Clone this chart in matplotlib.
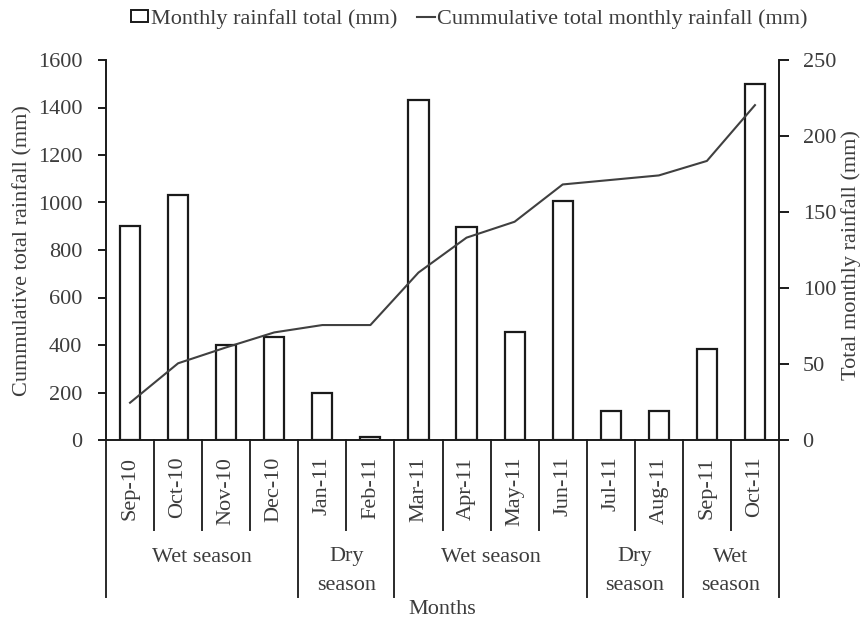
import matplotlib
matplotlib.use("Agg")
import matplotlib.pyplot as plt
from matplotlib.patches import Patch
from matplotlib.lines import Line2D
import matplotlib.transforms as mtransforms

# Monthly data
months = ["Sep-10", "Oct-10", "Nov-10", "Dec-10", "Jan-11", "Feb-11", "Mar-11",
          "Apr-11", "May-11", "Jun-11", "Jul-11", "Aug-11", "Sep-11", "Oct-11"]
monthly_rain = [141, 161, 62.5, 67.5, 31, 2, 224, 140, 71, 157.5, 19, 19, 60, 234]
cumulative_rain = [157, 323, 390, 453, 484, 484, 705, 852, 919, 1076, 1095, 1114, 1175, 1410]

# Season groups: label and number of months covered
season_labels = ["Wet season", "Dry\nseason", "Wet season", "Dry\nseason", "Wet\nseason"]
season_spans = [4, 2, 4, 2, 2]

left_ticks = [0, 200, 400, 600, 800, 1000, 1200, 1400, 1600]
right_ticks = [0, 50, 100, 150, 200, 250]

TXT = "#3c3c3c"
FS = 16
plt.rcParams["font.family"] = ["Liberation Serif", "DejaVu Serif"]
plt.rcParams["text.color"] = TXT

W, H = 865, 621
fig = plt.figure(figsize=(W / 100, H / 100), dpi=100)
ax = fig.add_axes([106 / W, 1 - 440 / H, (779 - 106) / W, 380 / H])
ax2 = ax.twinx()

x = list(range(len(months)))

# Cumulative line on the left axis
ax.plot(x, cumulative_rain, color="#404040", lw=1.5, zorder=3)
ax.set_ylim(0, 1600)
ax.set_yticks(left_ticks)
ax.set_xlim(-0.5, len(months) - 0.5)

# Monthly bars on the right axis
ax2.bar(x, monthly_rain, width=0.42, facecolor="white", edgecolor="#1a1a1a",
        linewidth=1.6, zorder=2)
ax2.set_ylim(0, 250)
ax2.set_yticks(right_ticks)
ax.set_zorder(ax2.get_zorder() + 1)
ax.patch.set_visible(False)

for a in (ax, ax2):
    a.spines["top"].set_visible(False)
    for s in ("left", "right", "bottom"):
        a.spines[s].set_linewidth(1.4)
        a.spines[s].set_color("#1a1a1a")
ax2.spines["left"].set_visible(False)
ax2.spines["bottom"].set_visible(False)
ax.spines["right"].set_visible(False)

ax.tick_params(axis="y", direction="out", length=6, width=1.4, pad=11,
               labelsize=FS, labelcolor=TXT, color="#1a1a1a")
ax2.tick_params(axis="y", direction="out", length=7, width=1.4, pad=10,
                labelsize=FS, labelcolor=TXT, color="#1a1a1a")

# Month labels
ax.set_xticks(x)
ax.set_xticklabels(months, rotation=90, fontsize=FS, color=TXT)
ax.tick_params(axis="x", length=0, pad=12)

# Separators and season labels below the axis
trans = mtransforms.blended_transform_factory(ax.transData, ax.transAxes)
px = 1 / 380.0
group_edges = [0]
for n in season_spans:
    group_edges.append(group_edges[-1] + n)
for i in range(len(months) + 1):
    xe = i - 0.5
    y_end = -157 * px if i in group_edges else -90 * px
    ax.add_line(Line2D([xe, xe], [0, y_end], transform=trans, color="#2a2a2a",
                       lw=1.4, clip_on=False))
for k, lab in enumerate(season_labels):
    xc = (group_edges[k] + group_edges[k + 1]) / 2 - 0.5
    for j, line in enumerate(lab.split("\n")):
        ax.text(xc, -(117 + 28 * j) * px, line, transform=trans, ha="center",
                va="center", fontsize=FS, color=TXT)

ax.text(0.5, -170 * px, "Months", transform=ax.transAxes, ha="center",
        va="center", fontsize=FS, color=TXT)

# Axis titles
fig.text(23 / W, 1 - 251 / H, "Cummulative total rainfall (mm)", rotation=90,
         ha="center", va="center", fontsize=FS, color=TXT)
fig.text(851 / W, 1 - 255 / H, "Total monthly rainfall (mm)", rotation=90,
         ha="center", va="center", fontsize=FS, color=TXT)

# Legend
handles = [Patch(facecolor="white", edgecolor="#1a1a1a", linewidth=1.4),
           Line2D([], [], color="#404040", lw=1.5)]
fig.legend(handles, ["Monthly rainfall total (mm)",
                     "Cummulative total monthly rainfall (mm)"],
           loc="center", bbox_to_anchor=(469 / W, 1 - 19 / H), ncol=2,
           frameon=False, fontsize=FS, handlelength=0.8, handleheight=0.45,
           handletextpad=0.1, columnspacing=0.9, borderpad=0)

fig.savefig("out.png", dpi=100)
